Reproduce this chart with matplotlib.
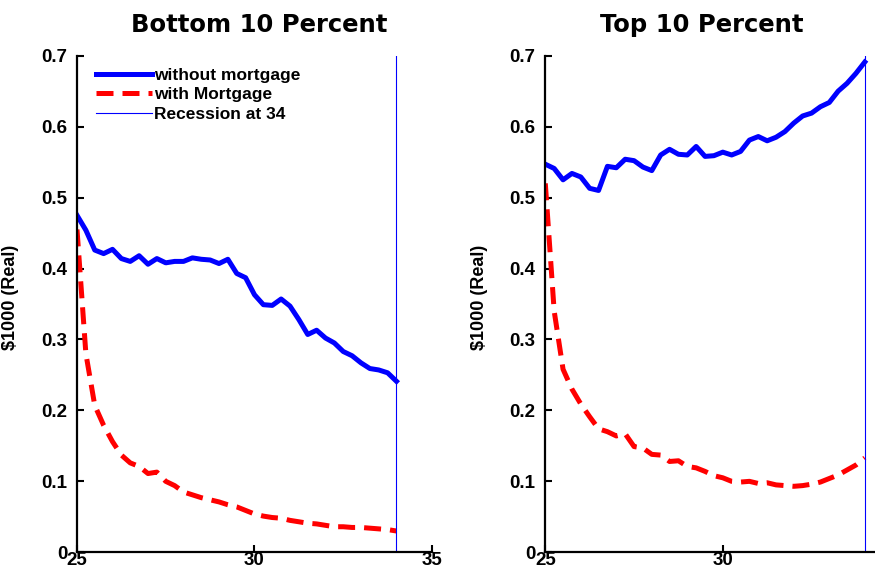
import numpy as np
import matplotlib.pyplot as plt
from matplotlib import rcParams

rcParams['font.family'] = ['Liberation Sans', 'DejaVu Sans']
rcParams['font.weight'] = 'bold'

# age, quarterly steps from 25 to 34
age = np.arange(37) * 0.25 + 25

bottom_without = [0.475, 0.454, 0.426, 0.421, 0.427, 0.414, 0.410, 0.418, 0.406, 0.414,
                  0.408, 0.410, 0.410, 0.415, 0.413, 0.412, 0.407, 0.413, 0.393, 0.387,
                  0.363, 0.349, 0.348, 0.357, 0.347, 0.328, 0.307, 0.313, 0.302, 0.295,
                  0.283, 0.277, 0.267, 0.259, 0.257, 0.253, 0.241]
bottom_with = [0.455, 0.280, 0.207, 0.179, 0.156, 0.137, 0.126, 0.121, 0.111, 0.113,
               0.100, 0.094, 0.085, 0.081, 0.077, 0.074, 0.071, 0.067, 0.064, 0.059,
               0.054, 0.051, 0.049, 0.048, 0.045, 0.043, 0.041, 0.040, 0.038, 0.036,
               0.036, 0.035, 0.035, 0.034, 0.033, 0.032, 0.030]
top_without = [0.547, 0.541, 0.525, 0.534, 0.529, 0.513, 0.510, 0.544, 0.542, 0.554,
               0.552, 0.543, 0.538, 0.560, 0.568, 0.561, 0.560, 0.572, 0.558, 0.559,
               0.564, 0.560, 0.565, 0.581, 0.586, 0.580, 0.585, 0.593, 0.605, 0.615,
               0.619, 0.628, 0.634, 0.650, 0.661, 0.675, 0.691]
top_with = [0.520, 0.340, 0.258, 0.230, 0.209, 0.191, 0.174, 0.170, 0.164, 0.167,
            0.149, 0.147, 0.138, 0.137, 0.128, 0.129, 0.121, 0.119, 0.114, 0.108,
            0.105, 0.100, 0.099, 0.100, 0.097, 0.098, 0.095, 0.094, 0.093, 0.094,
            0.096, 0.099, 0.104, 0.109, 0.116, 0.123, 0.133]
recession = 34

yticks = [0, 0.1, 0.2, 0.3, 0.4, 0.5, 0.6, 0.7]
ytick_labels = ['0', '0.1', '0.2', '0.3', '0.4', '0.5', '0.6', '0.7']
xticks_left = [25, 30, 35]
xticks_right = [25, 30]

fig = plt.figure(figsize=(8.75, 5.75), dpi=100)
ax1 = fig.add_axes([0.088, 0.0395, 0.4057, 0.8637])
ax2 = fig.add_axes([0.6232, 0.0395, 0.4057, 0.8637])

panels = [(ax1, bottom_without, bottom_with, "Bottom 10 Percent", 0.514, xticks_left),
          (ax2, top_without, top_with, "Top 10 Percent", 0.44, xticks_right)]

for ax, yw, ym, title, tx, xt in panels:
    ax.plot(age, yw, color='blue', lw=3.6, solid_joinstyle='round', label="without mortgage")
    ax.plot(age, ym, color='red', lw=3.6, linestyle=(0, (3.4, 1.8)), label="with Mortgage")
    ax.axvline(recession, color='blue', lw=0.8, label="Recession at 34")
    ax.set_xlim(25, 35)
    ax.set_ylim(0, 0.7)
    ax.set_xticks(xt)
    ax.set_yticks(yticks)
    ax.set_yticklabels(ytick_labels)
    ax.spines['top'].set_visible(False)
    ax.spines['right'].set_visible(False)
    ax.spines['left'].set_linewidth(1.6)
    ax.spines['bottom'].set_linewidth(1.6)
    ax.tick_params(direction='in', length=5, width=1.5, labelsize=13.5)
    ax.tick_params(axis='y', pad=7)
    ax.tick_params(axis='x', pad=0)
    ax.set_ylabel("\\$1000 (Real)", fontsize=13, fontweight='bold')
    ax.set_title(title, fontsize=17.5, fontweight='bold', family='DejaVu Sans', pad=17, x=tx)

ax1.yaxis.set_label_coords(-0.163, 0.513)
ax2.yaxis.set_label_coords(-0.161, 0.513)

ax1.legend(loc='upper left', frameon=False, fontsize=12.5, handlelength=3.2,
           handletextpad=0.15, labelspacing=0.25, borderaxespad=0.3, bbox_to_anchor=(0.02, 1.0))

plt.savefig("out.png", dpi=100)
